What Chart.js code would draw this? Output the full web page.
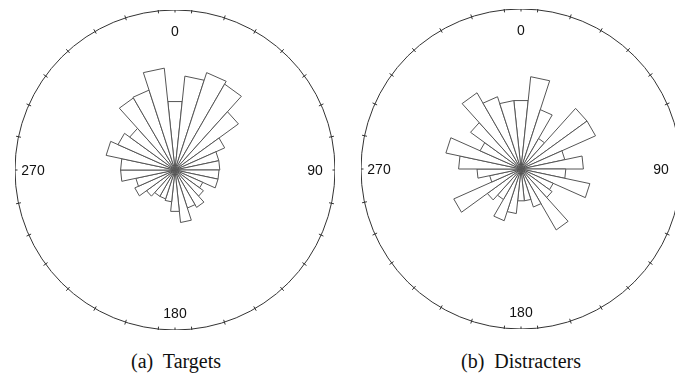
<!DOCTYPE html>
<html>
<head>
<meta charset="utf-8">
<script src="https://cdn.jsdelivr.net/npm/chart.js@4.4.1/dist/chart.umd.min.js"></script>
<style>
  html, body { margin: 0; padding: 0; background: #fff; }
  body { width: 675px; height: 380px; position: relative; overflow: hidden; }
  canvas { position: absolute; }
  #roseA { left: 15px; top: 10px; }
  #roseB { left: 361px; top: 9px; }
  .caption {
    position: absolute; top: 350px; width: 300px; text-align: center;
    font-family: "Liberation Serif", "Times New Roman", serif; font-size: 20px;
    line-height: 22px; color: #111; white-space: pre;
  }
</style>
</head>
<body>
<canvas id="roseA" width="320" height="320"></canvas>
<canvas id="roseB" width="320" height="320"></canvas>
<div class="caption" style="left:26px">(a)  Targets</div>
<div class="caption" style="left:371px">(b)  Distracters</div>
<script>
// Direction bins (degrees, clockwise from 0 at the top), 12° wide each
const binCenters = [0, 12, 24, 36, 48, 60, 72, 84, 96, 108, 120, 132, 144, 156, 168,
                    180, 192, 204, 216, 228, 240, 252, 264, 276, 288, 300, 312, 324, 336, 348];

// Relative frequency per bin (outer ring = 100)
const targets = [43, 59, 64, 62, 49, 34, 28, 28, 27.5, 27.5, 19, 22, 27, 25, 33,
                 26, 20, 19, 19, 22, 27.5, 25, 34, 34, 44, 39, 35, 52, 52.5, 64];
const distracters = [43, 58, 39, 22, 51, 51, 28, 39, 28, 44, 22, 24, 44, 25, 20,
                     20, 28, 34, 22, 26, 46, 20, 27.5, 39, 48, 28, 39, 55, 47.5, 43];

// Compass labels shown inside the ring
const compassLabels = ['0', '90', '180', '270'];
const compassAngles = [0, 90, 180, 270];

// Ring tick marks: the bin edges plus the north/south marks
const ringTicks = [0, 180];
for (let k = 0; k < binCenters.length; k++) ringTicks.push(binCenters[k] + 6);

const ringMax = 100;

const ringMarks = {
  id: 'ringMarks',
  afterDraw(chart) {
    const s = chart.scales.r;
    const ctx = chart.ctx;
    const R = s.drawingArea;
    const cx = s.xCenter, cy = s.yCenter;
    ctx.save();
    ctx.strokeStyle = '#333';
    ctx.lineWidth = 1;
    ctx.beginPath();
    for (const deg of ringTicks) {
      const a = (deg - 90) * Math.PI / 180;
      const c = Math.cos(a), sn = Math.sin(a);
      ctx.moveTo(cx + (R - 2.5) * c, cy + (R - 2.5) * sn);
      ctx.lineTo(cx + (R + 2.5) * c, cy + (R + 2.5) * sn);
    }
    ctx.stroke();
    ctx.fillStyle = '#111';
    ctx.font = '14px "Liberation Sans", Arial, sans-serif';
    ctx.textAlign = 'center';
    ctx.textBaseline = 'middle';
    const inset = [21, 20, 17, 18];
    compassLabels.forEach((txt, i) => {
      const a = (compassAngles[i] - 90) * Math.PI / 180;
      const d = R - inset[i];
      ctx.fillText(txt, cx + d * Math.cos(a), cy + d * Math.sin(a) + 1);
    });
    ctx.restore();
  }
};

function makeRose(id, values) {
  return new Chart(document.getElementById(id), {
    type: 'polarArea',
    data: {
      labels: binCenters.map(d => d + '°'),
      datasets: [{
        data: values,
        backgroundColor: '#ffffff',
        borderColor: '#555555',
        borderWidth: 1,
        circular: false
      }]
    },
    options: {
      responsive: false,
      animation: false,
      layout: { padding: 0 },
      plugins: { legend: { display: false }, tooltip: { enabled: false } },
      scales: {
        r: {
          min: 0,
          max: ringMax,
          startAngle: -6,
          ticks: { display: false, stepSize: ringMax },
          grid: { color: '#333333', lineWidth: 1, circular: true },
          angleLines: { display: false },
          pointLabels: { display: false }
        }
      }
    },
    plugins: [ringMarks]
  });
}

makeRose('roseA', targets);
makeRose('roseB', distracters);
</script>
</body>
</html>
